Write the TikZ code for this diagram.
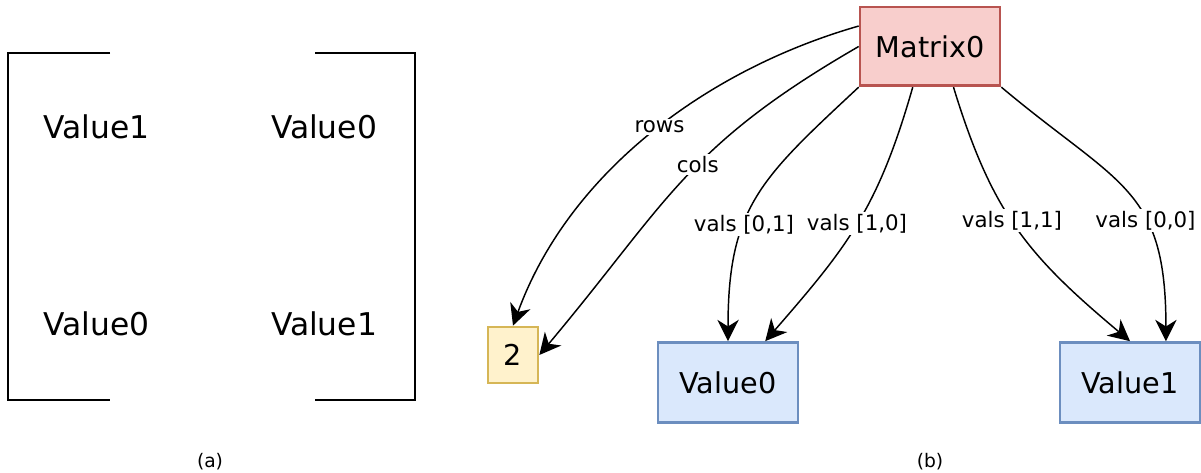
\documentclass[tikz,border=0pt]{standalone}
\usepackage{fontspec}
\setmainfont{DejaVu Sans}
\usetikzlibrary{arrows.meta}

\definecolor{matfill}{HTML}{F8CECC}
\definecolor{matline}{HTML}{B85450}
\definecolor{numfill}{HTML}{FFF2CC}
\definecolor{numline}{HTML}{D6B656}
\definecolor{valfill}{HTML}{DAE8FC}
\definecolor{valline}{HTML}{6C8EBF}

\tikzset{every picture/.style={line width=0.75pt}}
\tikzset{
	box/.style={draw, line width=2pt, inner sep=0pt, minimum width=105pt, minimum height=60pt, font=\fontsize{21.5}{24}\selectfont},
	entry/.style={anchor=base, inner sep=0pt, font=\fontsize{23.5}{26}\selectfont},
	conn/.style={line width=1.1pt, -{Stealth[length=16pt,width=16pt,inset=5pt]}},
	lbl/.style={fill=white, inner sep=1.5pt, font=\fontsize{16}{18}\selectfont},
	caption/.style={inner sep=0pt, font=\fontsize{14}{16}\selectfont}
}

\begin{document}
\begin{tikzpicture}[x=0.75pt,y=0.75pt,yscale=-1,xscale=1]
	\useasboundingbox (0,0) rectangle (1201,473);
	
	%Shape: Brackets (a)
	\draw [line width=2.2pt]  (110,53) -- (8,53) -- (8,400) -- (110,400) ;
	\draw [line width=2.2pt]  (315,53) -- (415,53) -- (415,400) -- (315,400) ;
	
	% Text Node
	\node [entry] (e11) at (96.5,139) {Value1};
	% Text Node
	\node [entry] (e12) at (324,139) {Value0};
	% Text Node
	\node [entry] (e21) at (96.5,335) {Value0};
	% Text Node
	\node [entry] (e22) at (324,335) {Value1};
	
	%Shape: Rectangle (b)
	\node [box, fill=matfill, draw=matline, minimum height=59pt] (m) at (930,46.5) {Matrix0};
	%Shape: Rectangle
	\node [box, fill=numfill, draw=numline, minimum width=37.5pt, minimum height=42pt] (t) at (513,355) {2};
	%Shape: Rectangle
	\node [box, fill=valfill, draw=valline] (v0) at (728,382.5) {Value0};
	%Shape: Rectangle
	\node [box, fill=valfill, draw=valline] (v1) at (1130,382.5) {Value1};
	
	% Connection (angles mirrored by yscale=-1)
	\draw [conn] (m.164) to [out=164,in=-70,looseness=0.9] node [lbl,pos=0.47] {rows} (t.north) ;
	% Connection
	\draw [conn] (m.west) to [out=150,in=-50,looseness=1.15] node [lbl,pos=0.44] {cols} (t.east) ;
	% Connection
	\draw [conn] (m.south west) to [out=137,in=-90,looseness=1.2] node [lbl,pos=0.62] {vals [0,1]} (v0.north) ;
	% Connection
	\draw [conn] (m.-113) to [out=106,in=-49,looseness=1.1] node [lbl,pos=0.5] {vals [1,0]} (v0.48) ;
	% Connection
	\draw [conn] (m.-60) to [out=73,in=-140,looseness=1.1] node [lbl,pos=0.46] {vals [1,1]} (v1.north) ;
	% Connection
	\draw [conn] (m.south east) to [out=40,in=-90,looseness=1.3] node [lbl,pos=0.63] {vals [0,0]} (v1.49) ;
	
	% Text Node
	\node [caption] (capa) at (210,462) {(a)};
	% Text Node
	\node [caption] (capb) at (930,462) {(b)};
	
\end{tikzpicture}
\end{document}
